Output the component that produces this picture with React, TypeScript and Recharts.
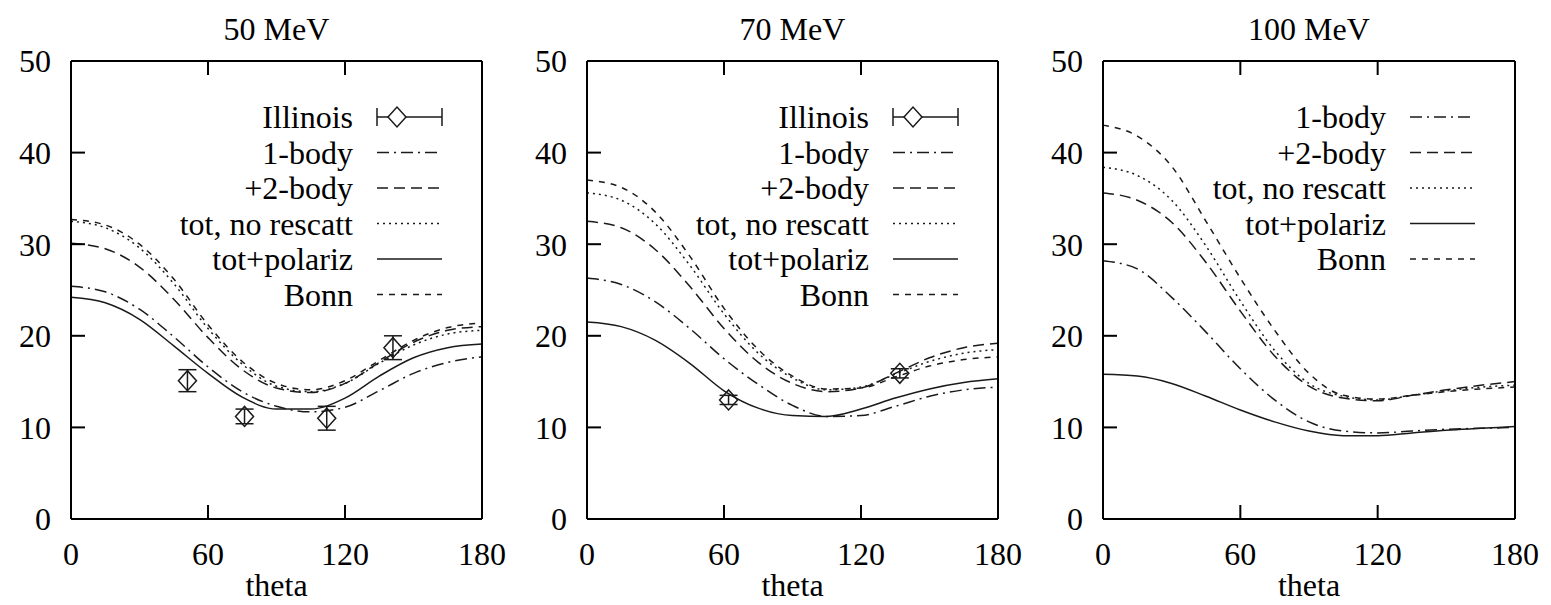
import { ComposedChart, Line, Scatter, ErrorBar, XAxis, YAxis, Legend } from 'recharts';

const FONT = "'Liberation Serif', 'Times New Roman', serif";
const INK = '#1a1a1a';

// scattering angle grid (degrees)
const theta = [0, 15, 30, 45, 60, 75, 90, 105, 120, 135, 150, 165, 180];

// 50 MeV
const oneBody50 = [25.4, 24.8, 22.9, 19.9, 16.6, 13.9, 12.3, 11.7, 12.2, 14.0, 15.9, 17.1, 17.7];
const twoBody50 = [30.1, 29.5, 27.5, 24.0, 19.8, 16.3, 14.3, 13.8, 14.8, 17.1, 19.3, 20.6, 21.0];
const noResc50 = [32.5, 31.8, 29.6, 25.7, 20.8, 16.9, 14.5, 13.9, 14.8, 17.0, 19.0, 20.2, 20.6];
const polar50 = [24.2, 23.6, 21.8, 18.9, 15.9, 13.3, 12.0, 12.0, 13.2, 15.6, 17.6, 18.7, 19.1];
const bonn50 = [32.7, 32.1, 30.0, 26.2, 21.2, 17.2, 14.8, 14.1, 15.1, 17.3, 19.5, 20.9, 21.4];

// 70 MeV
const oneBody70 = [26.3, 25.6, 23.7, 20.8, 17.5, 14.7, 12.4, 11.2, 11.3, 12.3, 13.4, 14.1, 14.4];
const twoBody70 = [32.5, 31.8, 29.4, 25.4, 20.8, 17.1, 14.8, 13.9, 14.3, 15.9, 17.6, 18.7, 19.2];
const noResc70 = [35.6, 34.8, 32.2, 27.7, 22.4, 18.1, 15.4, 14.1, 14.4, 15.8, 17.2, 18.1, 18.5];
const polar70 = [21.5, 21.0, 19.5, 17.0, 14.0, 12.1, 11.3, 11.2, 12.0, 13.2, 14.2, 14.9, 15.3];
const bonn70 = [37.0, 36.2, 33.5, 28.7, 23.0, 18.5, 15.6, 14.2, 14.3, 15.5, 16.7, 17.4, 17.7];

// 100 MeV
const oneBody100 = [28.2, 27.3, 24.2, 20.4, 16.4, 13.0, 10.6, 9.6, 9.4, 9.6, 9.8, 9.9, 10.0];
const twoBody100 = [35.6, 34.8, 32.4, 28.0, 22.7, 17.8, 14.5, 13.2, 12.9, 13.5, 14.1, 14.6, 15.0];
const noResc100 = [38.4, 37.5, 34.8, 29.8, 23.8, 18.4, 14.8, 13.4, 13.0, 13.5, 14.0, 14.4, 14.6];
const polar100 = [15.8, 15.6, 14.8, 13.4, 11.9, 10.6, 9.6, 9.1, 9.1, 9.4, 9.7, 9.9, 10.1];
const bonn100 = [43.0, 41.8, 38.5, 32.5, 26.3, 20.6, 15.9, 13.5, 13.1, 13.5, 13.9, 14.2, 14.4];

// Illinois data
const illTheta50 = [51, 76, 112, 141];
const illValue50 = [15.1, 11.2, 11.0, 18.7];
const illError50 = [1.2, 0.8, 1.3, 1.3];
const illTheta70 = [62, 137];
const illValue70 = [13.0, 15.9];
const illError70 = [0.5, 0.5];

const xTicks = [0, 60, 120, 180];
const yTicks = [0, 10, 20, 30, 40, 50];
const titles = ['50 MeV', '70 MeV', '100 MeV'];
const seriesKeys = ['oneBody', 'twoBody', 'noResc', 'polar', 'bonn'];
const seriesNames = ['1-body', '+2-body', 'tot, no rescatt', 'tot+polariz', 'Bonn'];
const seriesDash = ['12 5 2 5', '11 6', '2 4', '', '6 6'];

function buildRows(cols: number[][]) {
  return theta.map((t, i) => {
    const row: Record<string, number> = { theta: t };
    seriesKeys.forEach((k, j) => (row[k] = cols[j][i]));
    return row;
  });
}

function buildPoints(ts: number[], vs: number[], es: number[]) {
  return ts.map((t, i) => ({ theta: t, v: vs[i], err: es[i] }));
}

const panels = [
  {
    title: titles[0],
    left: 0,
    plotWidth: 411,
    rows: buildRows([oneBody50, twoBody50, noResc50, polar50, bonn50]),
    points: buildPoints(illTheta50, illValue50, illError50),
  },
  {
    title: titles[1],
    left: 516,
    plotWidth: 411,
    rows: buildRows([oneBody70, twoBody70, noResc70, polar70, bonn70]),
    points: buildPoints(illTheta70, illValue70, illError70),
  },
  {
    title: titles[2],
    left: 1032,
    plotWidth: 412,
    rows: buildRows([oneBody100, twoBody100, noResc100, polar100, bonn100]),
    points: [],
  },
];

const CHART_W = 517;
const CHART_H = 605;
const PLOT_LEFT = 71;
const Y_AXIS_W = 60;
const X_AXIS_H = 40;
const tickStyle = { fill: '#000', fontSize: 32, fontFamily: FONT };
const axisStroke = { stroke: '#000', strokeWidth: 2 };

const Diamond = (p: any) => {
  const { cx, cy } = p;
  if (cx == null || cy == null) return <g />;
  return (
    <polygon
      points={`${cx - 9},${cy} ${cx},${cy - 10} ${cx + 9},${cy} ${cx},${cy + 10}`}
      fill="none"
      stroke={INK}
      strokeWidth={1.5}
    />
  );
};

const NoTick = () => <g />;

function PanelLegend({ withData }: { withData: boolean }) {
  const rows: { name: string; dash: string | null }[] = [];
  if (withData) rows.push({ name: 'Illinois', dash: null });
  seriesNames.forEach((n, i) => rows.push({ name: n, dash: seriesDash[i] }));
  const step = 35.5;
  return (
    <svg width={330} height={rows.length * step + 10} style={{ overflow: 'visible', display: 'block' }}>
      {rows.map((r, i) => {
        const cy = 20 + i * step;
        return (
          <g key={r.name}>
            <text
              x={201}
              y={cy}
              textAnchor="end"
              dominantBaseline="central"
              fontSize={32}
              fontFamily={FONT}
              fill="#000"
            >
              {r.name}
            </text>
            {r.dash === null ? (
              <g stroke={INK} strokeWidth={1.5} fill="none">
                <line x1={225} y1={cy} x2={290} y2={cy} />
                <line x1={225} y1={cy - 9} x2={225} y2={cy + 9} />
                <line x1={290} y1={cy - 9} x2={290} y2={cy + 9} />
                <polygon points={`${236},${cy} ${245},${cy - 10} ${254},${cy} ${245},${cy + 10}`} fill="#fff" />
              </g>
            ) : (
              <line
                x1={225}
                y1={cy}
                x2={290}
                y2={cy}
                stroke={INK}
                strokeWidth={1.5}
                strokeDasharray={r.dash || undefined}
              />
            )}
          </g>
        );
      })}
    </svg>
  );
}

function Panel({ panel }: { panel: (typeof panels)[number] }) {
  const plotRight = PLOT_LEFT + panel.plotWidth;
  const hasData = panel.points.length > 0;
  return (
    <div style={{ position: 'absolute', left: panel.left, top: 0 }}>
      <ComposedChart
        width={CHART_W}
        height={CHART_H}
        data={panel.rows}
        margin={{ top: 60, right: CHART_W - plotRight - 1, bottom: CHART_H - 519 - X_AXIS_H, left: PLOT_LEFT - Y_AXIS_W }}
      >
        <XAxis
          xAxisId="b"
          dataKey="theta"
          type="number"
          domain={[0, 180]}
          ticks={xTicks}
          height={X_AXIS_H}
          axisLine={axisStroke}
          tickLine={axisStroke}
          tickSize={-14}
          tickMargin={37}
          tick={tickStyle}
          label={{ value: 'theta', position: 'bottom', offset: 14, fill: '#000', fontSize: 32, fontFamily: FONT }}
        />
        <XAxis
          xAxisId="t"
          orientation="top"
          dataKey="theta"
          type="number"
          domain={[0, 180]}
          ticks={xTicks}
          height={1}
          axisLine={axisStroke}
          tickLine={axisStroke}
          tickSize={-14}
          tick={NoTick}
          label={{ value: panel.title, position: 'top', offset: 20, fill: '#000', fontSize: 32, fontFamily: FONT }}
        />
        <YAxis
          yAxisId="l"
          type="number"
          domain={[0, 50]}
          ticks={yTicks}
          width={Y_AXIS_W}
          axisLine={axisStroke}
          tickLine={axisStroke}
          tickSize={-14}
          tickMargin={34}
          tick={tickStyle}
        />
        <YAxis
          yAxisId="r"
          orientation="right"
          type="number"
          domain={[0, 50]}
          ticks={yTicks}
          width={1}
          axisLine={axisStroke}
          tickLine={axisStroke}
          tickSize={-14}
          tick={NoTick}
        />
        {seriesKeys.map((k, i) => (
          <Line
            key={k}
            xAxisId="b"
            yAxisId="l"
            type="monotone"
            dataKey={k}
            stroke={INK}
            strokeWidth={1.5}
            strokeDasharray={seriesDash[i] || undefined}
            dot={false}
            activeDot={false}
            isAnimationActive={false}
          />
        ))}
        {hasData && (
          <Scatter
            xAxisId="b"
            yAxisId="l"
            data={panel.points}
            dataKey="v"
            shape={Diamond}
            isAnimationActive={false}
          >
            <ErrorBar dataKey="err" direction="y" width={9} stroke={INK} strokeWidth={1.5} isAnimationActive={false} />
          </Scatter>
        )}
        <Legend
          layout="vertical"
          align="center"
          verticalAlign="middle"
          content={() => <PanelLegend withData={hasData} />}
          wrapperStyle={{ position: 'absolute', left: plotRight - 330, top: 97, width: 330 }}
        />
      </ComposedChart>
    </div>
  );
}

export default function App() {
  return (
    <div style={{ position: 'absolute', left: 0, top: 0, width: 1551, height: 605, background: '#fff', overflow: 'hidden' }}>
      {panels.map((p) => (
        <Panel key={p.title} panel={p} />
      ))}
    </div>
  );
}
